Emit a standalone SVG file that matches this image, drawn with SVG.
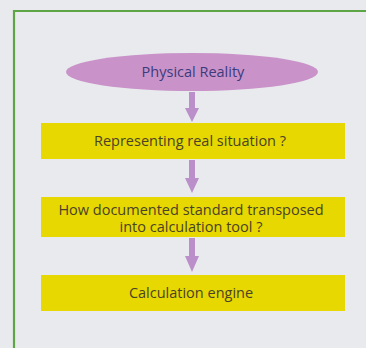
<svg xmlns="http://www.w3.org/2000/svg" width="366" height="348" viewBox="0 0 366 348">
<defs>
<style>
.box{fill:#e6d800}
.t{font-family:"Open Sans","Liberation Sans",sans-serif;font-size:14.5px;fill:#4a4228;text-anchor:middle}
.arr{fill:#bb8fc9}
</style>
</defs>
<rect x="0" y="0" width="366" height="348" fill="#e9eaee"/>
<path d="M14 348 V11 H366" fill="none" stroke="#5ea545" stroke-width="2.2"/>
<g id="connectors">
<path class="arr" d="M189 92 H195 V108 H199 L192 122 L185 108 H189 Z"/>
<path class="arr" d="M189 160 H195 V178 H199 L192 193 L185 178 H189 Z"/>
<path class="arr" d="M189 238 H195 V256 H199 L192 272 L185 256 H189 Z"/>
</g>
<g id="physical-reality">
<ellipse cx="192" cy="72" rx="126" ry="19" fill="#c993c9"/>
<text class="t" x="193" y="77" style="fill:#3d3a7c">Physical Reality</text>
</g>
<g id="representing">
<rect class="box" x="41" y="123" width="304" height="36"/>
<text class="t" x="190" y="146">Representing real situation ?</text>
</g>
<g id="documented">
<rect class="box" x="41" y="197" width="304" height="40"/>
<text class="t" x="191" y="214.5">How documented standard transposed</text>
<text class="t" x="191" y="232">into calculation tool ?</text>
</g>
<g id="engine">
<rect class="box" x="41" y="275" width="304" height="36"/>
<text class="t" x="191" y="298">Calculation engine</text>
</g>
</svg>
